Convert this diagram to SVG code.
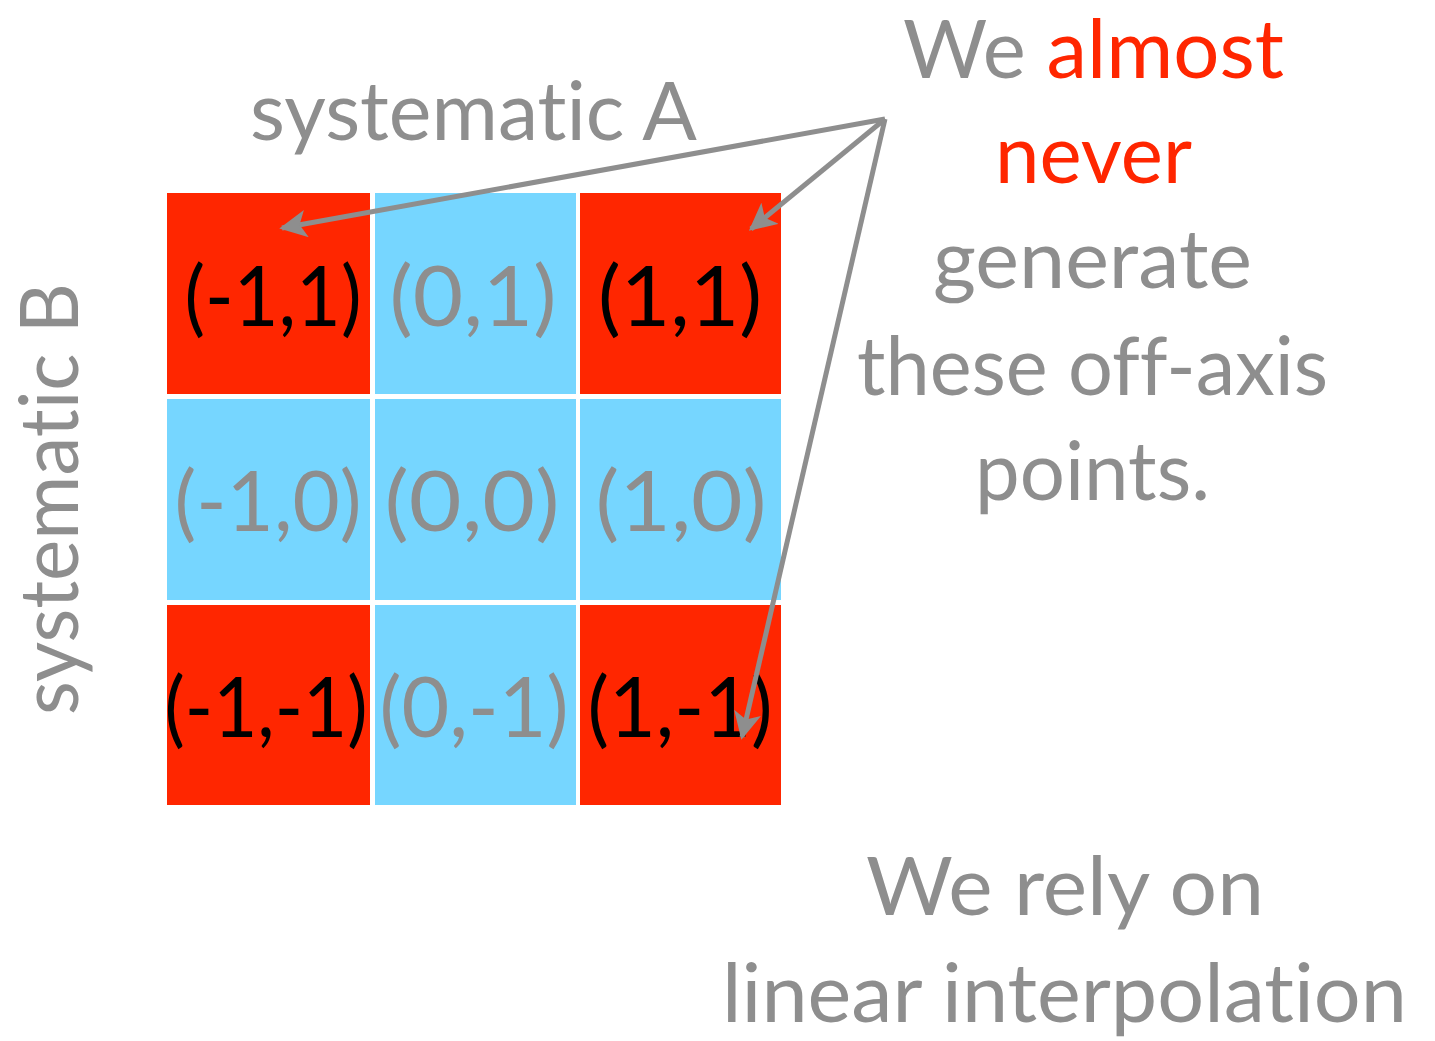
<svg xmlns="http://www.w3.org/2000/svg" width="1435" height="1041" viewBox="0 0 1435 1041">
<style>
text{font-variant-ligatures:none;font-feature-settings:"liga" 0,"clig" 0;}
.t{font-family:Lato,"Noto Sans",sans-serif;fill:#8e8e8e;}
.big{font-size:82px;}
.lab{font-family:Lato,"Noto Sans",sans-serif;font-size:84px;text-anchor:middle;}
.blk{fill:#000;}
.gry{fill:#8e8e8e;}
.red{fill:#ff2600;}
.blu{fill:#76d6ff;}
.arr{stroke:#8e8e8e;stroke-width:5;fill:none;}
</style>
<defs>
<marker id="ah" viewBox="0 0 10 10" refX="9" refY="5" markerWidth="5.5" markerHeight="5.5" orient="auto" markerUnits="strokeWidth">
<path d="M0,0 L10,5 L0,10 L2.5,5 z" fill="#8e8e8e"/>
</marker>
</defs>
<rect width="1435" height="1041" fill="#fff"/>
<g id="cell-m1-1"><rect class="red" x="167" y="193" width="203" height="201"/><text class="lab blk" x="273" y="326" textLength="177" lengthAdjust="spacingAndGlyphs">(-1,1)</text></g>
<g id="cell-0-1"><rect class="blu" x="375" y="193" width="201" height="201"/><text class="lab gry" x="473" y="326" textLength="167" lengthAdjust="spacingAndGlyphs">(0,1)</text></g>
<g id="cell-1-1"><rect class="red" x="580" y="193" width="201" height="201"/><text class="lab blk" x="680" y="326" textLength="164" lengthAdjust="spacingAndGlyphs">(1,1)</text></g>
<g id="cell-m1-0"><rect class="blu" x="167" y="399" width="203" height="201"/><text class="lab gry" x="268" y="531" textLength="187" lengthAdjust="spacingAndGlyphs">(-1,0)</text></g>
<g id="cell-0-0"><rect class="blu" x="375" y="399" width="201" height="201"/><text class="lab gry" x="472" y="531" textLength="175" lengthAdjust="spacingAndGlyphs">(0,0)</text></g>
<g id="cell-1-0"><rect class="blu" x="580" y="399" width="201" height="201"/><text class="lab gry" x="681" y="531" textLength="171" lengthAdjust="spacingAndGlyphs">(1,0)</text></g>
<g id="cell-m1-m1"><rect class="red" x="167" y="605" width="203" height="200"/><text class="lab blk" x="266" y="737" textLength="203" lengthAdjust="spacingAndGlyphs">(-1,-1)</text></g>
<g id="cell-0-m1"><rect class="blu" x="375" y="605" width="201" height="200"/><text class="lab gry" x="474" y="737" textLength="189" lengthAdjust="spacingAndGlyphs">(0,-1)</text></g>
<g id="cell-1-m1"><rect class="red" x="580" y="605" width="201" height="200"/><text class="lab blk" x="680" y="737" textLength="185" lengthAdjust="spacingAndGlyphs">(1,-1)</text></g>
<g id="label-a"><text class="t big" x="250" y="140" textLength="447" lengthAdjust="spacingAndGlyphs">systematic A</text></g>
<g id="label-b"><text class="t big" transform="translate(78,715) rotate(-90)" x="0" y="0" textLength="432" lengthAdjust="spacingAndGlyphs">systematic B</text></g>
<g id="note-top">
<text class="t big" x="903" y="78" textLength="381" lengthAdjust="spacingAndGlyphs">We <tspan fill="#ff2600">almost</tspan></text>
<text class="t big" x="995" y="183" style="fill:#ff2600" textLength="197" lengthAdjust="spacingAndGlyphs">never</text>
<text class="t big" x="933" y="288" textLength="319" lengthAdjust="spacingAndGlyphs">generate</text>
<text class="t big" x="857" y="395" textLength="471" lengthAdjust="spacingAndGlyphs">these off-axis</text>
<text class="t big" x="975" y="500" textLength="235" lengthAdjust="spacingAndGlyphs">points.</text>
</g>
<g id="note-bottom">
<text class="t big" x="866" y="915" textLength="398" lengthAdjust="spacingAndGlyphs">We rely on</text>
<text class="t big" x="722" y="1022" textLength="685" lengthAdjust="spacingAndGlyphs">linear interpolation</text>
</g>
<g id="connectors">
<line class="arr" x1="885" y1="119" x2="282" y2="228" marker-end="url(#ah)"/>
<line class="arr" x1="885" y1="119" x2="751" y2="229" marker-end="url(#ah)"/>
<line class="arr" x1="885" y1="119" x2="742" y2="737" marker-end="url(#ah)"/>
</g>
</svg>
